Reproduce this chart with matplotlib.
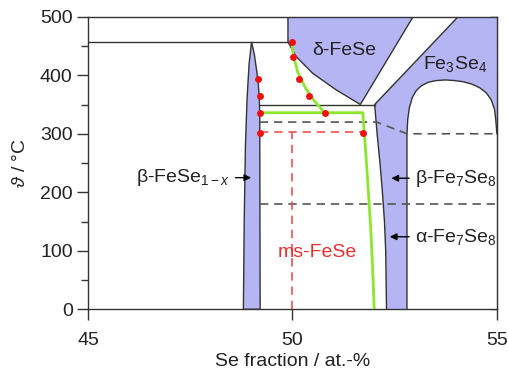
import matplotlib
matplotlib.use("Agg")
import matplotlib.pyplot as plt
from matplotlib.patches import Polygon
from matplotlib.ticker import MultipleLocator

plt.rcParams['font.family'] = ['Liberation Sans', 'DejaVu Sans']
plt.rcParams['mathtext.fontset'] = 'custom'
plt.rcParams['mathtext.rm'] = 'Liberation Sans'
plt.rcParams['mathtext.it'] = 'Liberation Sans:italic'
plt.rcParams['mathtext.bf'] = 'Liberation Sans:bold'

# ---- phase boundaries (Se fraction in at.-%, temperature in °C) ----
# beta-FeSe(1-x) single-phase field
beta_left_x = [48.80, 48.82, 48.85, 48.89, 48.94, 49.00]
beta_left_T = [0, 150, 280, 360, 420, 457]
beta_right_x = [49.00, 49.07, 49.12, 49.16, 49.19, 49.20, 49.21]
beta_right_T = [457, 435, 410, 390, 360, 330, 0]

# delta-FeSe field
delta_curve_x = [49.89, 50.09, 50.50, 51.07, 51.66]
delta_curve_T = [457, 432, 403, 375, 350]
delta_right_x = [51.66, 52.95]
delta_right_T = [350, 500]

# Fe3Se4 / Fe7Se8 field, left boundary
fe_left_x = [54.05, 52.01, 52.07, 52.14, 52.20, 52.25, 52.28, 52.30]
fe_left_T = [500, 350, 300, 250, 200, 150, 100, 0]

# two-phase pocket inside the Fe3Se4 / Fe7Se8 field
pocket_x = [52.80, 52.80, 52.82, 52.86, 52.93, 53.03, 53.15, 53.32, 53.52,
            53.74, 53.95, 54.17, 54.38, 54.57, 54.74, 54.86, 54.94, 54.97,
            55.00, 55.00]
pocket_T = [0, 300, 325, 345, 362, 374, 382, 388, 391, 392, 391, 389, 385,
            379, 370, 358, 342, 325, 300, 0]

# invariant / transition lines
peritectic_T = 457
peritectic_x = [45.0, 49.89]
eutectoid_T = 350
eutectoid_x = [49.20, 52.01]
trans_hi_x = [49.20, 52.06, 52.80, 55.00]
trans_hi_T = [320, 320, 300, 300]
trans_lo_x = [49.20, 55.00]
trans_lo_T = [180, 180]

# metastable FeSe
ms_T = 302.5
ms_x = [49.20, 51.73]
ms_comp = 50.0

# measured boundary (green) and data points (red)
green_main_x = [49.20, 51.72, 51.74, 51.77, 51.82, 51.87, 51.92, 51.96, 52.00]
green_main_T = [336, 336, 315, 289, 240, 187, 130, 70, 0]
green_upper_x = [50.79, 50.55, 50.32, 50.13, 50.02, 49.98]
green_upper_T = [336, 355, 378, 405, 435, 457]
dots_x = [49.16, 49.20, 49.20, 49.20, 49.98, 50.01, 50.16, 50.41, 50.79, 51.73]
dots_T = [393, 365, 336, 302, 456, 432, 393, 365, 336, 302]

x_ticks = [45, 50, 55]
y_ticks = [0, 100, 200, 300, 400, 500]

fill_col = '#b5b5f3'
line_col = '#333333'

fig = plt.figure(figsize=(5.08, 3.72), dpi=100)
ax = fig.add_axes([0.1732, 0.1685, 0.805, 0.7865])
ax.set_xlim(45, 55)
ax.set_ylim(0, 500)

# filled single-phase fields
beta_poly = list(zip(beta_left_x, beta_left_T)) + list(zip(beta_right_x, beta_right_T))
ax.add_patch(Polygon(beta_poly, closed=True, facecolor=fill_col,
                     edgecolor=line_col, lw=1.0, zorder=2))

delta_poly = ([(delta_curve_x[0], 500)] + list(zip(delta_curve_x, delta_curve_T))
              + list(zip(delta_right_x[1:], delta_right_T[1:])))
ax.add_patch(Polygon(delta_poly, closed=True, facecolor=fill_col,
                     edgecolor='none', zorder=2))
ax.plot([delta_curve_x[0]] + delta_curve_x + delta_right_x[1:],
        [500] + delta_curve_T + delta_right_T[1:], color=line_col, lw=1.0, zorder=3)

fe_poly = list(zip(fe_left_x, fe_left_T)) + [(55, 0), (55, 500)]
ax.add_patch(Polygon(fe_poly, closed=True, facecolor=fill_col,
                     edgecolor='none', zorder=2))
ax.plot(fe_left_x, fe_left_T, color=line_col, lw=1.0, zorder=3)

ax.add_patch(Polygon(list(zip(pocket_x, pocket_T)), closed=True,
                     facecolor='white', edgecolor='none', zorder=2.5))
ax.plot(pocket_x[:-1], pocket_T[:-1], color=line_col, lw=1.0, zorder=3)

# invariant lines
ax.plot(peritectic_x, [peritectic_T] * 2, color=line_col, lw=1.0, zorder=3)
ax.plot(eutectoid_x, [eutectoid_T] * 2, color=line_col, lw=1.0, zorder=3)

# dashed transition lines
ax.plot(trans_hi_x, trans_hi_T, color='#555555', lw=1.2, ls=(0, (5, 3.5)), zorder=3)
ax.plot(trans_lo_x, trans_lo_T, color='#555555', lw=1.2, ls=(0, (5, 3.5)), zorder=3)

# metastable FeSe
ax.plot(ms_x, [ms_T] * 2, color='#f05050', lw=1.2, ls=(0, (5, 3.5)), zorder=3)
ax.plot([ms_comp] * 2, [0, ms_T], color='#f05050', lw=1.2, ls=(0, (5, 3.5)), zorder=3)

# measured boundary and points
ax.plot(green_main_x, green_main_T, color='#8ce62e', lw=2.0, zorder=4)
ax.plot(green_upper_x, green_upper_T, color='#8ce62e', lw=2.0, zorder=4)
ax.plot(dots_x, dots_T, ls='none', marker='o', ms=5, color='#ee1111',
        mec='none', zorder=5)

# phase labels
fs = 14
ax.text(51.27, 443, 'δ-FeSe', fontsize=fs, ha='center', va='center', color='#222222', zorder=6)
ax.text(53.98, 420, r'Fe$_3$Se$_4$', fontsize=fs, ha='center', va='center', color='#222222', zorder=6)
ax.text(50.6, 97, 'ms-FeSe', fontsize=fs, ha='center', va='center', color='#e83030', zorder=6)

arrow = dict(arrowstyle='-|>', color='black', lw=1.0, mutation_scale=10,
             shrinkA=2, shrinkB=0)
ax.annotate(r'β-FeSe$_{1-x}$', xy=(48.99, 225), xytext=(48.47, 225),
            fontsize=fs, ha='right', va='center', color='#222222',
            arrowprops=arrow, zorder=6)
ax.annotate(r'β-Fe$_7$Se$_8$', xy=(52.42, 224), xytext=(52.99, 224),
            fontsize=fs, ha='left', va='center', color='#222222',
            arrowprops=arrow, zorder=6)
ax.annotate(r'α-Fe$_7$Se$_8$', xy=(52.38, 124), xytext=(52.99, 124),
            fontsize=fs, ha='left', va='center', color='#222222',
            arrowprops=arrow, zorder=6)

# axes styling
for s in ax.spines.values():
    s.set_color(line_col)
    s.set_linewidth(1.0)
ax.set_xticks(x_ticks)
ax.set_yticks(y_ticks)
ax.yaxis.set_minor_locator(MultipleLocator(50))
ax.tick_params(axis='both', which='major', direction='out', length=8,
               width=1.0, color=line_col, labelsize=fs, labelcolor='#222222', pad=3)
ax.tick_params(axis='y', which='minor', direction='out', length=5, width=1.0,
               color=line_col)
ax.tick_params(axis='x', which='major', pad=8)
ax.tick_params(top=False, right=False)

sec = ax.secondary_yaxis('right')
sec.set_yticks(list(range(0, 501, 50)))
sec.tick_params(direction='in', length=5, width=1.0, color=line_col,
                labelright=False)
sec.spines['right'].set_color(line_col)

ax.set_xlabel('Se fraction / at.-%', fontsize=fs, color='#222222', labelpad=3)
ax.set_ylabel(r'$\vartheta$ / °C', fontsize=fs, color='#222222', labelpad=8)

fig.savefig('out.png', dpi=100)
